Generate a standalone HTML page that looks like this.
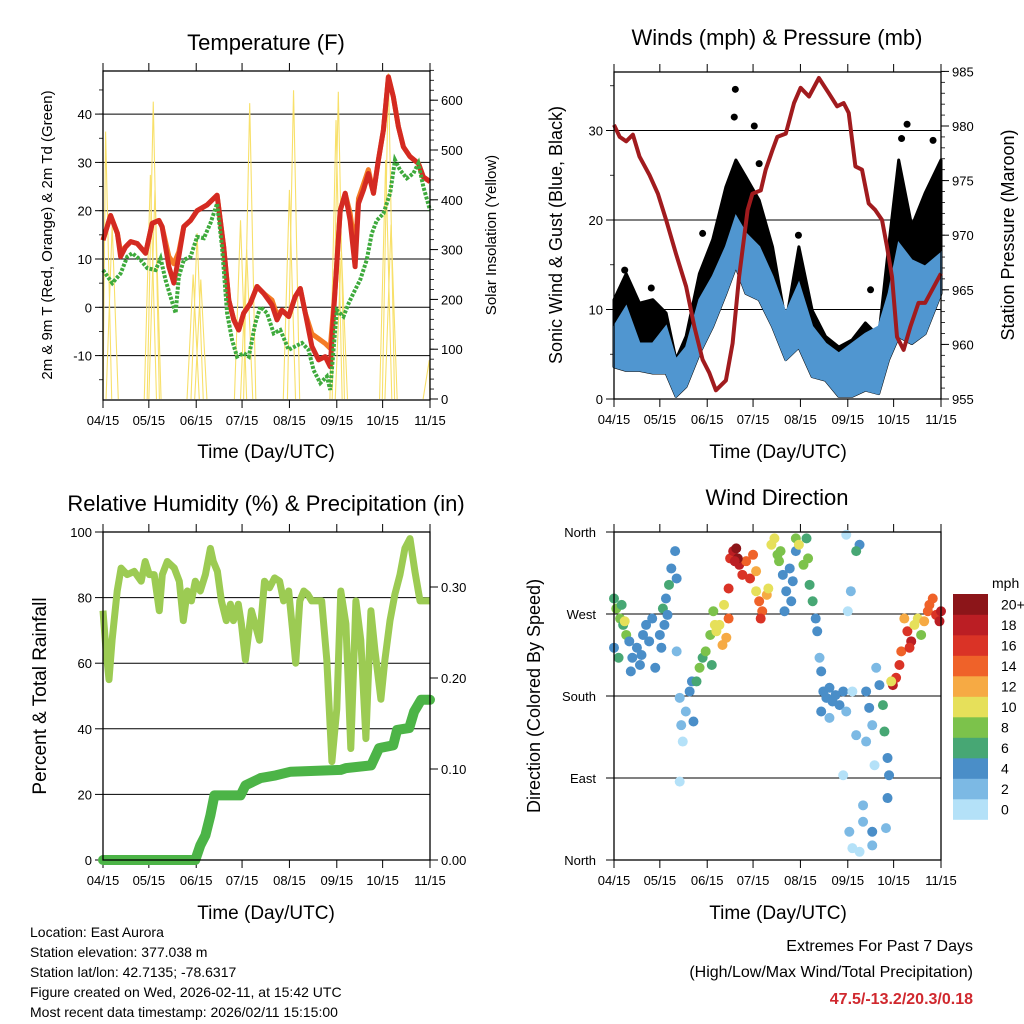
<!DOCTYPE html>
<html><head><meta charset="utf-8">
<style>
html,body{margin:0;padding:0;background:#fff;}
svg{display:block;font-family:"Liberation Sans",sans-serif;}
</style></head>
<body>
<svg id="chart" width="1024" height="1024" viewBox="0 0 1024 1024" xmlns="http://www.w3.org/2000/svg">
<rect x="0" y="0" width="1024" height="1024" fill="#fff"/>
<text x="266" y="50" font-size="22" text-anchor="middle">Temperature (F)</text>
<text x="777" y="45" font-size="22" text-anchor="middle">Winds (mph) &amp; Pressure (mb)</text>
<text x="266" y="511" font-size="22" text-anchor="middle">Relative Humidity (%) &amp; Precipitation (in)</text>
<text x="777" y="505" font-size="22" text-anchor="middle">Wind Direction</text>
<text x="266" y="458" font-size="19" text-anchor="middle">Time (Day/UTC)</text>
<text x="778" y="458" font-size="19" text-anchor="middle">Time (Day/UTC)</text>
<text x="266" y="919" font-size="19" text-anchor="middle">Time (Day/UTC)</text>
<text x="778" y="919" font-size="19" text-anchor="middle">Time (Day/UTC)</text>
<text transform="translate(52,235) rotate(-90)" font-size="15" text-anchor="middle">2m &amp; 9m T (Red, Orange) &amp; 2m Td (Green)</text>
<text transform="translate(496,235) rotate(-90)" font-size="15" text-anchor="middle">Solar Insolation (Yellow)</text>
<text transform="translate(562,235) rotate(-90)" font-size="18" text-anchor="middle">Sonic Wind &amp; Gust (Blue, Black)</text>
<text transform="translate(1014,235) rotate(-90)" font-size="18" text-anchor="middle">Station Pressure (Maroon)</text>
<text transform="translate(46,696) rotate(-90)" font-size="19" text-anchor="middle">Percent &amp; Total Rainfall</text>
<text transform="translate(540,696) rotate(-90)" font-size="18" text-anchor="middle">Direction (Colored By Speed)</text>
<g font-size="14">
<text x="30" y="937">Location: East Aurora</text>
<text x="30" y="957">Station elevation: 377.038 m</text>
<text x="30" y="977">Station lat/lon: 42.7135; -78.6317</text>
<text x="30" y="997">Figure created on Wed, 2026-02-11, at 15:42 UTC</text>
<text x="30" y="1017">Most recent data timestamp: 2026/02/11 15:15:00</text>
</g>
<text x="973" y="951" font-size="16" text-anchor="end">Extremes For Past 7 Days</text>
<text x="973" y="977" font-size="16" text-anchor="end">(High/Low/Max Wind/Total Precipitation)</text>
<text x="973" y="1004" font-size="16" font-weight="bold" fill="#d0282e" text-anchor="end">47.5/-13.2/20.3/0.18</text>
</svg>
<script>
const xTickLabels = ['04/15','05/15','06/15','07/15','08/15','09/15','10/15','11/15'];
const xTickDays = [0,30,61,91,122,153,183,214];

const tempDays = [0,5,9.4,11.5,14.8,18.1,22.4,27.9,32.2,36.6,38.7,43.1,46.4,49.6,52.9,57.3,61.6,68.1,74.7,79,82.3,85.6,88.8,92.1,96.4,100.8,105.1,110.6,113.9,117.1,121.5,125.8,129.1,132.4,136.7,141.1,145.4,148.7,152,155.2,158.5,161.7,165,167.2,170.5,173.7,177,180.2,183.5,186.8,190,193.3,196.6,200.9,206.4,209.6,214];
const temp2m = [13.9,19,15.3,10.5,12.5,13.6,13.2,11.2,17.4,18,16.7,8.4,5,10.5,16.7,18,20,21.2,23.2,12.5,1.5,-2.6,-4.7,-1.2,0.8,4.3,2.9,0.5,-2.6,-0.6,-1.9,2.2,3.9,-1.2,-8.1,-10.9,-10.2,-12.3,4.3,20,23.6,18,8.4,21.5,24.3,27.7,23.6,30.5,36.7,47.7,43.6,37.4,33.2,31.2,29.8,27,26];
const temp9m = [13.9,19,15.3,11.5,12.5,13.6,13.2,11.2,17.4,18,16.7,10.5,9,11.5,16.7,18,20,21.2,23.2,12.5,1.5,-2.6,-4.7,-1.2,0.8,4.3,2.9,1.5,-1.6,-0.6,-1.9,2.2,3.9,-1.2,-5.5,-6.5,-7.5,-8.5,4.3,20,23.6,19.5,12,22.5,25.5,28.5,23.6,30.5,36.7,47.7,43.6,37.4,33.2,31.2,29.8,27,26];
const dewDays = [0,6.1,11.5,15.9,19.2,24.6,29,34.4,37.7,40.9,44.2,47.5,49.6,52.9,57.3,61.6,66,70.3,74.7,77.9,81.2,84.5,87.7,92.1,95.4,99.7,103,107.3,111.7,116,121.5,125.8,130.2,134.5,137.8,142.2,146.5,148.7,153,157.4,160.7,163.9,168.3,172.6,175.9,179.2,183.5,187.9,191.1,194.4,198.8,203.1,206.4,209.6,214];
const dewPoint = [7.7,5,7,10.5,11.2,9.8,8.1,7.7,10.1,5.7,2.2,-1.2,6.3,9.8,10.5,14.6,14.3,17.4,21.5,12.5,-1.2,-6.8,-10.2,-9.5,-10.2,-3.3,0.1,-1.2,-5.4,-4.7,-8.8,-8.1,-7.4,-8.8,-13,-15.7,-14.3,-17.1,-0.6,-1.9,0.8,2.9,5.7,9.8,15.3,18,19.4,23.6,30.5,28.4,26.7,27.7,29.8,25,20.1];
const solarDays = [1.7,6,31,32.9,34,59,61.6,64,90,96,94,124.7,122,154,152.5,156,186.8,185,188.5,213.5];
const solarPeaks = [537,350,450,597,420,250,333,240,359,594,300,620,420,617,560,300,654,480,350,78];
const tempTicks = [-10,0,10,20,30,40];
const solarTicks = [0,100,200,300,400,500,600];

const pressDays = [0,3.7,8,12.4,16.7,23.2,28.7,34.1,40.6,47.2,52.6,58,62.4,66.7,73.2,77.6,81.9,87.4,90.6,96.1,99.3,103.7,106.9,112.4,117.8,122.1,127.6,134.1,140.6,146,150.3,153.6,158,162.3,166.7,171,175.4,178.6,181.9,185.2,189.5,193.9,199.3,203.6,214];
const pressure = [980.1,979,978.6,979.2,977.2,975.5,973.8,971.4,968.3,965.3,961.6,958.6,957.4,955.8,956.7,960.1,966.2,972.3,973.8,974.1,976,977.8,979,979.3,982.1,983.5,982.7,984.4,983,981.8,982.1,981.2,976.3,976,972.9,972.3,971.4,969,966.2,960.7,959.5,961.6,963.8,963.8,966.5];
const windDays = [0,8,16.7,25.4,34.1,40.6,47.2,55.9,64.6,73.2,79.8,86.3,95,103.7,112.4,121,129.7,138.4,147.1,155.8,164.5,173.2,179.7,186.3,194.9,203.6,214];
const windLow = [3.6,3.2,3.2,2.9,2.9,0.3,1.4,5.1,8.1,11.8,14.8,11.8,11.1,8.1,4.4,5.8,2.5,2.1,0.3,0.3,1,0.6,4.4,7,6.2,7.3,11.8];
const windHigh = [8.1,10.3,6.2,6.2,8.1,4.4,5.8,11.1,13.7,17,20.4,18.5,17,13.7,9.6,12.9,8.1,6.2,5.1,6.2,7.3,8.1,11.8,17.4,15.5,14.8,16.3];
const gustHigh = [11.1,14,10.7,11.1,9.6,4.4,7,14,17.8,23.7,26.7,24.8,22.2,17,8.5,17,9.9,7,5.8,6.6,8.5,7,17,26.7,19.3,23,26.7];
const gustDotDays = [79.4,78.7,91.8,58,120.7,191.8,188.2,208.8,167.9,95,7,24.4];
const gustDotVals = [34.6,31.5,30.5,18.5,18.3,30.7,29.1,28.9,12.2,26.3,14.4,12.4];
const windTicks = [0,10,20,30];
const pressTicks = [955,960,965,970,975,980,985];

const rhDays = [0,2.6,5.2,7.9,12.3,15.7,21,27.1,33.2,36.7,40.2,44.5,48.9,51.5,55.9,62,66.3,69.8,73.3,76.8,80.2,84.6,89,93.3,95.9,99.4,102.9,107.2,110.7,113.3,117.6,120.3,123.8,129,136,140.4,144.7,149.1,153.5,157,161.4,164.8,167.5,171,174.5,177.9,181.4,185.8,190.1,194.5,198.9,203.2,206.7,211.1,215.4,219.8,224.1,228.5,232.8,236.3,241.5,245,249.4,253.7,258.1,262.4,266.8,271.1,275.5,279.8,284.2];
const rhVals = [76,64,55,67,82,89,87,88,85,91,87,87,76,87,91,89,85,73,82,79,85,82,87,95,91,88,79,73,78,73,78,72,61,76,67,85,83,86,85,79,82,70,60,79,82,81,79,79,79,61,30,46,82,72,34,79,67,37,76,64,49,61,73,81,87,95,98,88,79,79,79];
const precipDays = [0,80.2,84.6,89,93.3,96.8,119.5,123.8,136.9,150,163.1,206.7,211.1,233,240,252.2,255.6,266.1,270.4,276.5,284.2];
const precipVals = [0,0,0.016,0.027,0.049,0.071,0.071,0.082,0.09,0.093,0.097,0.099,0.101,0.104,0.123,0.126,0.143,0.145,0.163,0.176,0.176];
const rhTicks = [0,20,40,60,80,100];
const precipTicks = [0,0.1,0.2,0.3];
const precipTickLabels = ['0.00','0.10','0.20','0.30'];

const dirDays = [0,1.5,4,6,8,0,3,7,10,5, 12,15,17,19,21,23,25,27,11,18, 30,32,34,36,37.5,40,41,35,33,31,41, 43,44,45,47,49.5,52,51,43, 54,56,58,60,63,65,66,64, 67,69,71,73.5,75,75,72, 76,78,80,82,84,86.5,89,91,93,81,79, 93,95,97,100,101,96, 103,105,107,108,109, 110.5,112.7,115,117,119,111.6,116, 119,121,124,126,128,130,132,127, 133,134.5,135.6, 137,139,141,143,145,147.6,150,135.6,141,152, 150,152,156,158.5,154,156,160.7,158.5,153,155, 165,167,169,171.6,173.7,176,177,179,180,179,178,163,163,169,169,165,170.5,160.7, 182.5,184.6,186.8,188,181.4, 190,192,194.5,196.6,198.8,201,203,205.4,193.4, 206.4,208.6,210.8,213,214];
const dirDegs = [287,276,265,258,247,233,222,262,240,280, 222,233,214,247,258,240,265,211,207,225, 247,276,287,302,320,339,309,269,258,233,229, 178,148,130,163,185,152,196,86, 196,211,222,229,247,273,258,214, 251,258,236,244,265,298,280, 331,339,342,324,313,328,309,335,317,331,328, 295,284,273,291,298,265, 346,353,335,328,339, 313,295,320,306,339,273,284, 353,346,324,353,302,284,265,331, 251,222,207, 185,178,189,174,181,170,185,163,156,163, 93,357,185,137,31,13,346,339,273,295, 185,167,148,211,192,170,141,112,93,68,35,60,42,31,16,130,104,9, 192,200,214,229,196, 265,251,240,258,265,247,262,273,233, 280,287,269,262,273];
const dirSpeeds = [6,8,8,6,8,4,6,10,4,6, 4,4,4,4,4,4,4,4,4,4, 4,6,4,6,4,4,4,4,4,4,2, 2,2,1,2,4,4,4,1, 6,8,6,8,8,8,10,6, 11,10,12,12,14,16,10, 16,19,20,18,16,14,16,14,12,20,18, 10,14,14,12,10,16, 10,10,8,8,8, 4,4,4,4,4,4,4, 8,10,8,6,6,6,4,8, 4,2,4, 4,4,4,4,4,4,4,4,3,2, 1,1,1,2,2,1,4,6,1,2, 4,4,3,2,4,6,6,4,4,4,2,2,2,4,2,2,1,1, 18,16,16,14,10, 12,16,18,10,10,8,12,14,16, 14,14,16,18,18];
const dirTickLabels = ['North','East','South','West','North'];
const dirTickVals = [0,90,180,270,360];
const speedLegendLabels = ['0','2','4','6','8','10','12','14','16','18','20+'];
const speedColors = ['#b4e1f8','#7cb9e4','#4a8ec8','#47a774','#7cc24b','#e6e05a','#f6aa44','#ef6229','#da3326','#bb1e24','#8c1519'];

const NS = 'http://www.w3.org/2000/svg';
const svg = document.getElementById('chart');
function mk(tag, attrs, parent) {
  const e = document.createElementNS(NS, tag);
  for (const k in attrs) e.setAttribute(k, attrs[k]);
  (parent || svg).appendChild(e);
  return e;
}
function grp(name) {
  const g = mk('g', {});
  
  
  return g;
}
const DAYSPAN = 214;
function xScaler(x0, x1) { return d => x0 + d / DAYSPAN * (x1 - x0); }
function linScaler(v0, v1, y0, y1) { return v => y0 + (v - v0) / (v1 - v0) * (y1 - y0); }
function pathFrom(xs, ys, xf, yf) {
  return xs.map((d, i) => (i ? 'L' : 'M') + xf(d).toFixed(1) + ',' + yf(ys[i]).toFixed(1)).join('');
}
function bandFrom(xs, lo, hi, xf, yf) {
  let p = xs.map((d, i) => (i ? 'L' : 'M') + xf(d).toFixed(1) + ',' + yf(hi[i]).toFixed(1)).join('');
  for (let i = xs.length - 1; i >= 0; i--) p += 'L' + xf(xs[i]).toFixed(1) + ',' + yf(lo[i]).toFixed(1);
  return p + 'Z';
}

function frame(P, name) {
  const g = grp(name + '-axes');
  const xf = xScaler(P.x0, P.x1);
  xTickDays.forEach((d, i) => {
    const x = xf(d);
    const t1 = mk('line', {x1: x, y1: P.y0, x2: x, y2: P.y0 - 8, stroke: '#000', 'stroke-width': 1}, g);
    
    
    const t2 = mk('line', {x1: x, y1: P.y1, x2: x, y2: P.y1 + 8, stroke: '#000', 'stroke-width': 1}, g);
    
    
    const lb = mk('text', {x: x, y: P.y1 + 25, 'font-size': 13, 'text-anchor': 'middle'}, g);
    lb.textContent = xTickLabels[i];
    
    
  });
  return g;
}
function border(P, name) {
  const r = mk('rect', {x: P.x0, y: P.y0, width: P.x1 - P.x0, height: P.y1 - P.y0, fill: 'none', stroke: '#000', 'stroke-width': 1.3});
  
  
}
function yAxis(P, side, ticks, labels, yf, minorStep, vmin, vmax, grid, g) {
  const xe = side === 'left' ? P.x0 : P.x1;
  const dir = side === 'left' ? -1 : 1;
  ticks.forEach((v, i) => {
    const y = yf(v);
    if (grid) {
      const gl = mk('line', {x1: P.x0, y1: y, x2: P.x1, y2: y, stroke: '#000', 'stroke-width': 1}, g);
      
      
    }
    const t = mk('line', {x1: xe, y1: y, x2: xe + dir * 8, y2: y, stroke: '#000', 'stroke-width': 1}, g);
    
    
    const lb = mk('text', {x: xe + dir * 11, y: y + 5, 'font-size': 13, 'text-anchor': side === 'left' ? 'end' : 'start'}, g);
    lb.textContent = labels[i];
    
    
  });
  if (minorStep) {
    for (let v = vmin; v <= vmax + 1e-9; v += minorStep) {
      const y = yf(v);
      const t = mk('line', {x1: xe, y1: y, x2: xe + dir * 4, y2: y, stroke: '#000', 'stroke-width': 0.8}, g);
      
      
    }
  }
}

(function () {
  const P = {x0: 103, x1: 430, y0: 71, y1: 400};
  const xf = xScaler(P.x0, P.x1);
  const yT = linScaler(0, 10, 307.3, 259);
  const yS = linScaler(0, 100, 399, 349.2);
  const g = frame(P, 'temperature');
  yAxis(P, 'left', tempTicks, tempTicks.map(String), yT, 5, -15, 45, true, g);
  yAxis(P, 'right', solarTicks, solarTicks.map(String), yS, 20, 0, 660, false, g);
  const sg = grp('solar-insolation-series');
  solarDays.forEach((d, i) => {
    const p = mk('path', {d: 'M' + xf(Math.max(0, d - 4)) + ',' + yS(0) + 'L' + xf(d) + ',' + yS(solarPeaks[i]) + 'L' + xf(Math.min(DAYSPAN, d + 4)) + ',' + yS(0), fill: 'none', stroke: '#f8e06a', 'stroke-width': 1.1}, sg);
    
    
  });
  const o = mk('path', {d: pathFrom(tempDays, temp9m, xf, yT), fill: 'none', stroke: '#f47b25', 'stroke-width': 5, 'stroke-linejoin': 'round'});
  
  
  const r = mk('path', {d: pathFrom(tempDays, temp2m, xf, yT), fill: 'none', stroke: '#d42a22', 'stroke-width': 5, 'stroke-linejoin': 'round'});
  
  
  const gr = mk('path', {d: pathFrom(dewDays, dewPoint, xf, yT), fill: 'none', stroke: '#3eaa3c', 'stroke-width': 4, 'stroke-dasharray': '3 1.5'});
  
  
  border(P, 'temperature');
})();

(function () {
  const P = {x0: 614, x1: 941, y0: 72, y1: 399};
  const xf = xScaler(P.x0, P.x1);
  const yW = linScaler(0, 10, 399, 309.5);
  const yP = linScaler(955, 960, 399, 344.4);
  const g = frame(P, 'winds');
  yAxis(P, 'left', windTicks, windTicks.map(String), yW, 5, 0, 35, true, g);
  yAxis(P, 'right', pressTicks, pressTicks.map(String), yP, 1, 955, 985, false, g);
  const gb = mk('path', {d: bandFrom(windDays, windLow, gustHigh, xf, yW), fill: '#000', stroke: '#000', 'stroke-width': 3, 'stroke-linejoin': 'round'});
  
  
  const bb = mk('path', {d: bandFrom(windDays, windLow, windHigh, xf, yW), fill: '#5096d0', stroke: '#5096d0', 'stroke-width': 2});
  
  
  const dg = grp('gust-dots');
  gustDotDays.forEach((d, i) => {
    const c = mk('circle', {cx: xf(d), cy: yW(gustDotVals[i]), r: 3.5, fill: '#000'}, dg);
    
    
  });
  const pl = mk('path', {d: pathFrom(pressDays, pressure, xf, yP), fill: 'none', stroke: '#a11b1e', 'stroke-width': 4, 'stroke-linejoin': 'round'});
  
  
  border(P, 'winds');
})();

(function () {
  const P = {x0: 103, x1: 430, y0: 532, y1: 860};
  const yR = linScaler(0, 100, 860, 532);
  const yPr = linScaler(0, 0.1, 860, 769);
  const g = frame(P, 'humidity');
  yAxis(P, 'left', rhTicks, rhTicks.map(String), yR, 0, 0, 0, true, g);
  yAxis(P, 'right', precipTicks, precipTickLabels, yPr, 0, 0, 0, false, g);
  const xR = d => P.x0 + d / 284.2 * (P.x1 - P.x0);
  const rh = mk('path', {d: pathFrom(rhDays, rhVals, xR, yR), fill: 'none', stroke: '#9ccb53', 'stroke-width': 7, 'stroke-linejoin': 'round'});
  
  
  const pr = mk('path', {d: pathFrom(precipDays, precipVals, xR, yPr), fill: 'none', stroke: '#4cb447', 'stroke-width': 10, 'stroke-linejoin': 'round', 'stroke-linecap': 'round'});
  
  
  border(P, 'humidity');
})();

(function () {
  const P = {x0: 614, x1: 941, y0: 532, y1: 860};
  const xf = xScaler(P.x0, P.x1);
  const yD = linScaler(0, 360, 860, 532);
  const g = frame(P, 'wind-direction');
  dirTickVals.forEach((v, i) => {
    const y = yD(v);
    if (i > 0 && i < 4) {
      const gl = mk('line', {x1: P.x0, y1: y, x2: P.x1, y2: y, stroke: '#000', 'stroke-width': 1}, g);
      
      
    }
    const t = mk('line', {x1: P.x0, y1: y, x2: P.x0 - 8, y2: y, stroke: '#000'}, g);
    
    
    const lb = mk('text', {x: P.x0 - 18, y: y + 5, 'font-size': 13, 'text-anchor': 'end'}, g);
    lb.textContent = dirTickLabels[i];
    
    
  });
  const pg = grp('direction-points');
  dirDays.forEach((d, i) => {
    const idx = Math.min(10, Math.floor(dirSpeeds[i] / 2));
    const c = mk('circle', {cx: xf(d), cy: yD(dirDegs[i]), r: 5, fill: speedColors[idx]}, pg);
    
    
  });
  border(P, 'wind-direction');
  const lg = grp('speed-legend');
  const lt = mk('text', {x: 992, y: 588, 'font-size': 14, 'text-anchor': 'start'}, lg);
  lt.textContent = 'mph';
  
  
  const bh = 20.5;
  speedLegendLabels.forEach((s, i) => {
    const y = 594 + (10 - i) * bh;
    const b = mk('rect', {x: 953, y: y, width: 35, height: bh + 0.3, fill: speedColors[i]}, lg);
    
    
    const t = mk('text', {x: 1001, y: y + bh / 2 + 5, 'font-size': 14}, lg);
    t.textContent = s;
    
    
  });
})();
</script>
</body></html>
